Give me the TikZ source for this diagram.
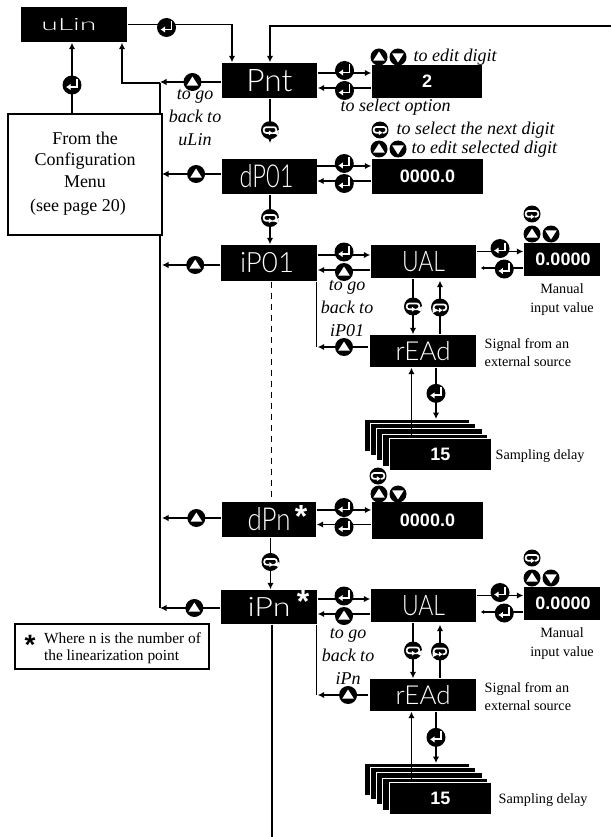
\documentclass[tikz,border=0pt]{standalone}
\usepackage{graphicx}
\usepackage{fontspec}
\setmainfont{Liberation Serif}
\newfontfamily\keyfont{Liberation Sans}
\newfontfamily\segfont{Lato Light}
\usetikzlibrary{arrows.meta, positioning}
\newcommand{\seg}[3]{\resizebox{#1pt}{#2pt}{\segfont #3}}
\tikzset{
  disp/.style={rectangle, fill=black, text=white, inner sep=0pt},
  val/.style={disp, font=\keyfont\fontsize{18}{18}\selectfont\bfseries},
  stackbox/.style={disp, draw=white, line width=0.9pt, anchor=north west, minimum height=32pt},
  hint/.style={inner sep=0pt, font=\fontsize{18}{22}\selectfont\itshape},
  captxt/.style={inner sep=0pt, font=\fontsize{14.2}{18.6}\selectfont},
  segstar/.style={inner sep=0pt, anchor=base, font=\keyfont\bfseries\fontsize{32}{32}\selectfont},
  keyround/.style={circle, fill=black, inner sep=0pt, minimum size=#1},
  enterkey/.style={keyround=19pt, path picture={
    \begin{scope}[shift={(path picture bounding box.center)}]
      \draw[white, line width=1.9pt, -{Latex[length=4.5pt,width=6.5pt]}] (5,-6) -- (5,2) -- (-6,2);
    \end{scope}}},
  upkey/.style={keyround=18pt, path picture={
    \fill[white, shift={(path picture bounding box.center)}] (0,-5.5) -- (5.8,3.6) -- (-5.8,3.6) -- cycle;}},
  downkey/.style={keyround=18pt, path picture={
    \fill[white, shift={(path picture bounding box.center)}] (0,5.5) -- (5.8,-3.6) -- (-5.8,-3.6) -- cycle;}},
  cyclekey/.style={keyround=18pt, path picture={
    \begin{scope}[shift={(path picture bounding box.center)}]
      \draw[white, line width=1.7pt, rounded corners=2.5pt] (-1,2.8) -- (-6.3,2.8) -- (-6.3,-3) -- (6.3,-3) -- (6.3,2.8) -- (2.5,2.8);
      \fill[white] (-1.2,0.2) -- (-1.2,5.2) -- (2.4,2.7) -- cycle;
    \end{scope}}},
}
\begin{document}
\begin{tikzpicture}[x=1pt, y=-1pt, line width=1.45pt, >={Latex[length=6.5pt,width=6.5pt]}]
  \useasboundingbox (0,0) rectangle (611,837);
  % return bus on the left, behind the white box
  \coordinate (bustop) at (160,83);
  \coordinate (busend) at (160,608);
  \draw (bustop) -- (busend);
  \node[rectangle, draw=black, fill=white, line width=1.6pt, minimum width=154pt, minimum height=121pt, inner sep=0pt,
    align=center, font=\fontsize{18}{21.5}\selectfont] (from) at (85,174.5)
    {From the\\Configuration\\Menu\\[3pt](see page 20)\hspace*{14pt}\mbox{}\\[-16.5pt]\mbox{}};
  % main column of displays
  \node[disp, minimum width=106pt, minimum height=35pt] (uLin) at (74,24.5) {\seg{55}{12}{uLin}\hspace*{10pt}};
  \node[disp, minimum width=95pt, minimum height=35pt] (Pnt) at (269.5,80.5) {\seg{46}{22}{Pnt}};
  \node[disp, minimum width=95pt, minimum height=35pt] (dP) at (269,176.5) {\seg{54}{23}{dP01}\hspace*{5pt}};
  \node[disp, minimum width=96pt, minimum height=36pt] (iP) at (269,263) {\seg{54}{20}{iP01}\hspace*{4pt}};
  \node[disp, minimum width=94pt, minimum height=35pt] (dPn) at (269,519.5) {\seg{43}{23}{dPn}};
  \node[disp, minimum width=96pt, minimum height=34pt] (iPn) at (269,607) {\seg{43}{19}{iPn}};
  \node[segstar, text=white] (dPnstar) at (301,527.5) {*};
  \node[segstar, text=white] (iPnstar) at (303,612.5) {*};
  % value boxes of the first three rows
  \node[val, minimum width=110pt, minimum height=33pt] (ptval) at (427,81.5) {2};
  \node[val, minimum width=111pt, minimum height=35pt] (dPval) at (427.5,176.5) {0000.0};
  \node[val, minimum width=111pt, minimum height=37pt] (dPnval) at (427.5,520.5) {0000.0};
  % into the menu and back to uLin
  \coordinate (topin) at (611,26);
  \draw[->] (uLin.east) -| node[enterkey, pos=0.186, yshift=-3pt] (uLinkey) {} ([xshift=-37.5pt]Pnt.north);
  \draw[->] (topin) -| ([xshift=0.5pt]Pnt.north);
  \draw[->] ([xshift=-13pt]from.north) -- node[enterkey, pos=0.4] (fromkey) {} ([xshift=-13pt]from.north |- uLin.south);
  \draw[->] (bustop) -| ([xshift=48pt]uLin.south);
  % rows of the main column
  \draw[->] ([yshift=-1.5pt]Pnt.west) -- node[upkey, pos=0.47] (Pntup) {} ([yshift=-1.5pt]Pnt.west -| bustop);
  \draw[->] ([yshift=2.5pt]dP.west) -- node[upkey, pos=0.42] (dPup) {} ([yshift=2.5pt,xshift=2pt]dP.west -| bustop);
  \draw[->] ([yshift=-2pt]iP.west) -- node[upkey, pos=0.43] (iPup) {} ([yshift=-2pt,xshift=2pt]iP.west -| bustop);
  \draw[->] ([yshift=1.5pt]dPn.west) -- node[upkey, pos=0.42] (dPnup) {} ([yshift=1.5pt,xshift=2pt]dPn.west -| bustop);
  \draw[->] ([yshift=-1pt]iPn.west) -- node[upkey, pos=0.43] (iPnup) {} ([yshift=-1pt]iPn.west -| busend);
  \coordinate (Pnttip) at (270,143);
  \draw[->] ([xshift=0.5pt]Pnt.south) -- node[cyclekey, pos=0.71] (Pntcycle) {} (Pnttip);
  \draw[->] ([xshift=1pt]dP.south) -- node[cyclekey, pos=0.47] (dPcycle) {} ([xshift=1pt]dP.south |- iP.north);
  \draw[dash pattern=on 6pt off 5pt] ([xshift=2.5pt]iP.south) -- ([xshift=2.5pt]iP.south |- dPn.north);
  \draw[->] ([xshift=1.5pt]dPn.south) -- node[cyclekey, pos=0.47] (dPncycle) {} ([xshift=1.5pt]dPn.south |- iPn.north);
  \coordinate (pageend) at (272,837);
  \draw ([xshift=3pt]iPn.south) -- (pageend);
  % edit arrows beside Pnt, dP01 and dPn
  \draw[->] ([yshift=7.5pt]Pnt.east) -- node[enterkey, yshift=2.5pt] (ptin) {} ([yshift=8.5pt]ptval.west);
  \draw[<-] ([yshift=-7.5pt]Pnt.east) -- node[enterkey, yshift=-2.5pt] (ptout) {} ([yshift=-6.5pt]ptval.west);
  \draw[->] ([yshift=10.5pt]dP.east) -- node[enterkey, yshift=2.5pt] (dPin) {} ([yshift=10.5pt]dPval.west);
  \draw[<-] ([yshift=-4.5pt]dP.east) -- node[enterkey, yshift=-2.5pt] (dPout) {} ([yshift=-4.5pt]dPval.west);
  \draw[->] ([yshift=9.5pt]dPn.east) -- node[enterkey, yshift=2.5pt] (dPnin) {} ([yshift=10.5pt]dPnval.west);
  \draw[<-] ([yshift=-5pt]dPn.east) -- node[enterkey, yshift=-2.5pt] (dPnout) {} ([yshift=-4pt]dPnval.west);
  % hints
  \node[upkey, minimum size=17pt] (ptu) at (379,57) {};
  \node[downkey, minimum size=17pt] (ptd) at (398,57) {};
  \node[hint, anchor=west] (pth) at (413,57) {to edit digit};
  \node[hint, anchor=west] (pts) at (340,107) {to select option};
  \node[cyclekey, minimum size=17pt] (dPc) at (380,130) {};
  \node[hint, anchor=west] (dPh) at (396,130) {to select the next digit};
  \node[upkey, minimum size=17pt] (dPu) at (379,149) {};
  \node[downkey, minimum size=17pt] (dPd) at (398,149) {};
  \node[hint, anchor=west] (dPs) at (411,149) {to edit selected digit};
  \node[cyclekey, minimum size=17pt] (dPnc) at (378,476) {};
  \node[upkey, minimum size=17pt] (dPnu) at (379,494) {};
  \node[downkey, minimum size=17pt] (dPnd) at (398,494) {};
  \node[hint, align=center, font=\fontsize{18}{23}\selectfont\itshape] (backu) at (195,118) {to go\\back to\\uLin};
  % the two point blocks, iP01 and iPn
  \foreach \n/\dy/\src/\lab/\tx/\ty/\sxa/\ry/\rp in {1/0/iP/iP01/347/309/495/4/0.48, 2/344/iPn/iPn/348/312/498/0/0.40}{
    \node[disp, minimum width=105pt, minimum height=33pt] (ual\n) at (423.5,261.5+\dy) {\seg{43}{20}{UAL}};
    \node[val, minimum width=76pt, minimum height=33pt] (man\n) at (562,259.5+\dy) {\hspace*{2pt}0.0000};
    \node[disp, minimum width=106pt, minimum height=32pt] (rd\n) at (423,351+\dy) {\seg{55}{19}{rEAd}};
    \foreach \sx/\sy/\sw [count=\i] in {364/419/105, 370/423/105, 376/428/106, 382/434/105}{
      \node[stackbox, minimum width=\sw pt] (st\n\i) at (\sx,\sy+\dy) {};
    }
    \node[val, stackbox, minimum width=102pt] (stk\n) at (389,438+\dy) {15};
    % connectors of the block
    \draw[->] ([yshift=6.5pt]ual\n.west -| \src.east) -- node[enterkey, pos=0.5, yshift=3pt] (in\n) {} ([yshift=6.5pt]ual\n.west);
    \draw[->] ([yshift=-8.5pt]ual\n.west) -- node[upkey, pos=0.5, yshift=-2pt] (up\n) {} ([yshift=-8.5pt]ual\n.west -| \src.east);
    \draw[->] ([yshift=10pt]ual\n.east) -- node[enterkey, yshift=3pt] (manin\n) {} ([yshift=8pt]man\n.west);
    \draw ([yshift=-8.5pt]man\n.west) -- node[enterkey, pos=0.52, yshift=-1pt] (manout\n) {} ([yshift=-6.5pt,xshift=10pt]ual\n.east);
    \draw[-{Latex[length=3.5pt,width=4.5pt]}] ([yshift=-6.5pt,xshift=10pt]ual\n.east) -- ([yshift=-6.5pt,xshift=4pt]ual\n.east);
    \draw[->] ([xshift=-10.5pt]ual\n.south) -- node[cyclekey] (cd\n) {} ([xshift=-10.5pt]ual\n.south |- rd\n.north);
    \draw[<-] ([xshift=16.5pt,yshift=-2pt]ual\n.south) -- node[cyclekey] (cu\n) {} ([xshift=16.5pt]ual\n.south |- rd\n.north);
    \draw[->] ([xshift=13pt]rd\n.south) -- node[enterkey] (rdin\n) {} ([xshift=13pt]rd\n.south |- st\n1.north);
    \draw[->] ([xshift=-29pt]stk\n.north) -- ([xshift=-29pt]stk\n.north |- rd\n.south);
    \draw[->] ([xshift=-1pt,yshift=\ry pt]rd\n.west) -- node[upkey, pos=\rp] (rdup\n) {} ([yshift=\ry pt]rd\n.west -| \src.south east);
    \draw ([xshift=-1pt]\src.south east) -- ([xshift=-1pt,yshift=\ry pt]rd\n.west -| \src.south east);
    % captions of the block
    \node[captxt, anchor=south, align=center] (mantxt\n) at (562,316+\dy) {Manual\\input value};
    \node[captxt, anchor=west, align=left] (sigtxt\n) at (484,352.5+\dy) {Signal from an\\external source};
    \node[captxt, anchor=west] (deltxt\n) at (\sxa,456+\dy) {Sampling delay};
    \node[hint, align=center, font=\fontsize{18}{23}\selectfont\itshape] (back\n) at (\tx,\ty+\dy) {to go\\back to\\\lab};
    \node[cyclekey, minimum size=17pt] (mc\n) at (532,214+\dy) {};
    \node[upkey, minimum size=17pt] (mu\n) at (532,234+\dy) {};
    \node[downkey, minimum size=17pt] (md\n) at (551,234+\dy) {};
  }
  % footnote box
  \node[rectangle, draw=black, line width=1.4pt, fill=white, minimum width=194pt, minimum height=45pt, inner sep=0pt] (note) at (112,646.5) {};
  \node[captxt, align=left, font=\fontsize{15.4}{17}\selectfont, right=29pt of note.west, inner sep=0pt, yshift=-2pt] (notetxt) {Where n is the number of\\the linearization point};
  \node[segstar, text=black, font=\keyfont\bfseries\fontsize{28}{28}\selectfont] (notestar) at (30,654.5) {*};
\end{tikzpicture}
\end{document}
